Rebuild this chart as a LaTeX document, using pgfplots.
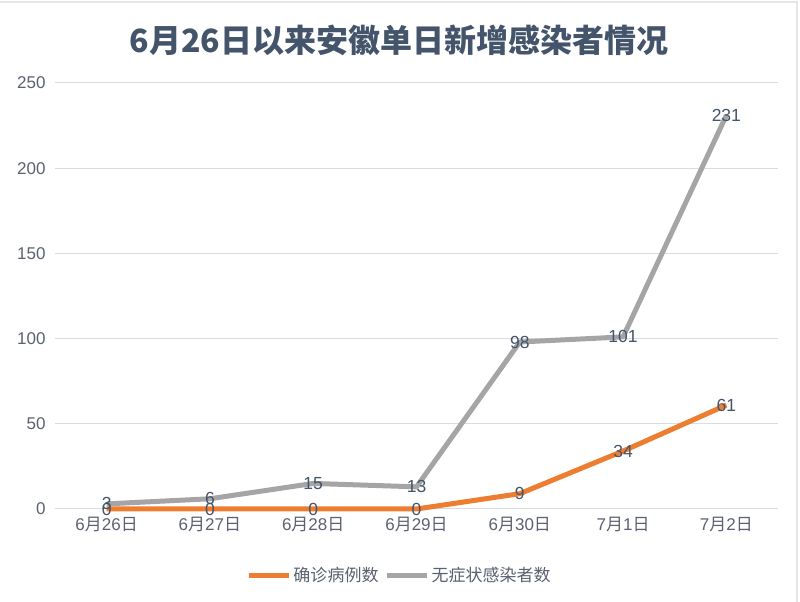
\documentclass[border=0pt]{standalone}
\usepackage{pgfplots}
\pgfplotsset{compat=1.18}
\usepackage{fontspec}
\setmainfont{Liberation Sans}
\newfontfamily\cjk{Noto Sans CJK SC}
\definecolor{ttl}{HTML}{44546A}
\definecolor{tick}{HTML}{5B6170}
\definecolor{grd}{HTML}{D9DCE1}
\definecolor{org}{HTML}{ED7D31}
\definecolor{gry}{HTML}{A5A5A5}
\begin{document}
\begin{tikzpicture}
\path[use as bounding box] (0pt,0pt) rectangle (800pt,602pt);
\draw[grd!70, line width=1.2pt] (0pt,600pt) -- (797pt,600pt) -- (797pt,0pt);
\node[font=\fontsize{32}{36}\selectfont\bfseries\cjk, text=ttl] at (399pt,562pt) {6月26日以来安徽单日新增感染者情况};
\begin{axis}[
  at={(55pt,93pt)}, anchor=south west,
  scale only axis, width=723pt, height=426pt,
  xmin=-0.5, xmax=6.5, ymin=0, ymax=250,
  xtick={0,...,6}, xticklabels={6{\cjk 月}26{\cjk 日},6{\cjk 月}27{\cjk 日},6{\cjk 月}28{\cjk 日},6{\cjk 月}29{\cjk 日},6{\cjk 月}30{\cjk 日},7{\cjk 月}1{\cjk 日},7{\cjk 月}2{\cjk 日}},
  extra x ticks={-0.5,0.5,1.5,2.5,3.5,4.5,5.5,6.5}, extra x tick labels={},
  extra x tick style={major tick length=7pt, tick style={grd, line width=1pt}, tick align=outside, grid=none},
  ytick={0,50,...,250},
  ymajorgrids, grid style={grd, line width=1pt},
  major x tick style={draw=none},
  major y tick style={draw=none},
  axis line style={draw=none},
  axis x line*=bottom, axis y line*=left,
  x axis line style={draw=grd, line width=1pt},
  ticklabel style={font=\fontsize{17}{19}\selectfont, text=tick},
  xticklabel style={yshift=-5pt},
  yticklabel style={xshift=-6pt},
  /pgf/number format/assume math mode=true,
  clip=false,
  legend style={at={(0.5,-0.155)}, xshift=-17pt, anchor=center, draw=none, legend columns=2, font=\fontsize{17}{19}\selectfont\cjk, text=tick, /tikz/every even column/.append style={column sep=4pt}},
  legend image code/.code={\draw[#1, line width=5pt] (0,0) -- (40pt,0);},
  nodes near coords, point meta=explicit,
  nodes near coords style={font=\fontsize{17.5}{19}\selectfont, text=ttl, anchor=center, /pgf/number format/assume math mode=true},
]
\addplot[org, line width=5pt, line join=round] coordinates {(0,0)[0] (1,0)[0] (2,0)[0] (3,0)[0] (4,9)[9] (5,34)[34] (6,61)[61]};
\addlegendentry{确诊病例数}
\addplot[gry, line width=5pt, line join=round] coordinates {(0,3)[3] (1,6)[6] (2,15)[15] (3,13)[13] (4,98)[98] (5,101)[101] (6,231)[231]};
\addlegendentry{无症状感染者数}
\end{axis}
\end{tikzpicture}
\end{document}
